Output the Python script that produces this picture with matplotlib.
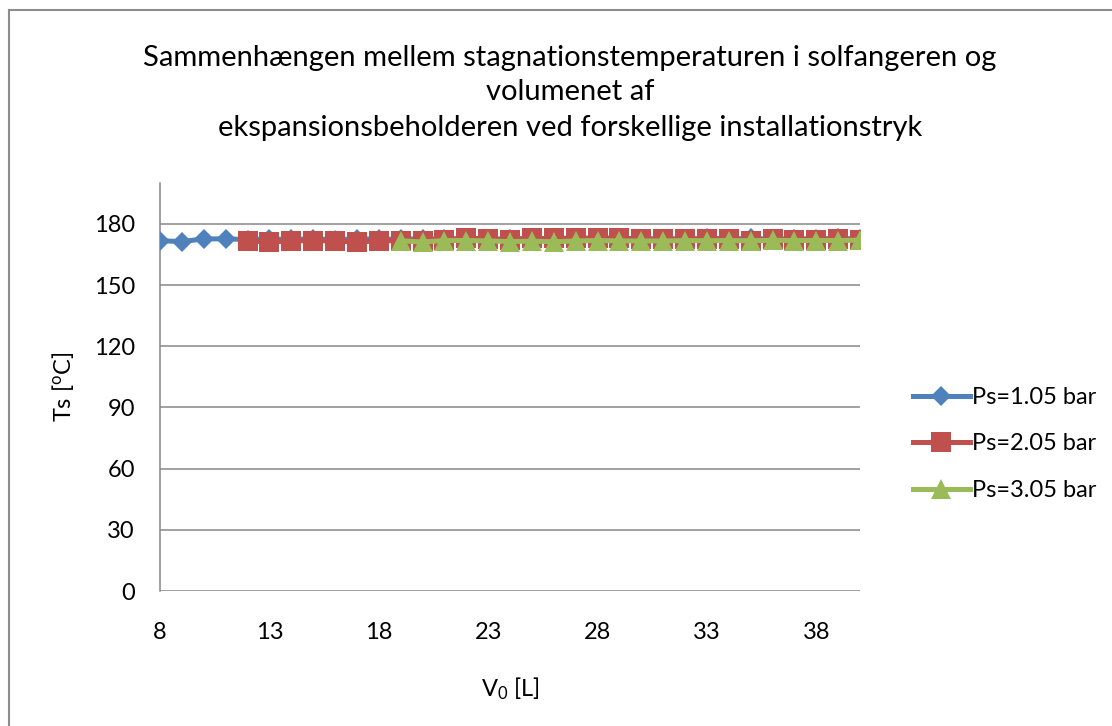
import matplotlib
matplotlib.use("Agg")
import matplotlib.pyplot as plt
from matplotlib.lines import Line2D

plt.rcParams['font.family'] = ['Lato', 'DejaVu Sans']
plt.rcParams['mathtext.fontset'] = 'custom'
plt.rcParams['mathtext.rm'] = 'Lato'
plt.rcParams['mathtext.it'] = 'Lato'

# Data
x_blue = list(range(8, 41))
ts_blue = [171.7, 171.3, 172.6, 172.6, 172.3, 172.5, 172.4, 172.6, 172.3, 172.5,
           172.6, 172.4, 172.7, 172.5, 172.6, 172.4, 172.7, 172.8, 172.6, 172.7,
           172.5, 172.8, 172.6, 172.7, 172.5, 172.8, 172.6, 172.8, 172.5, 172.7,
           172.6, 172.8, 172.6]
x_red = list(range(12, 41))
ts_red = [171.7, 171.0, 171.7, 171.7, 171.6, 171.0, 171.7, 171.7, 171.8, 172.2,
          173.0, 172.6, 172.1, 172.8, 172.8, 173.0, 173.0, 173.0, 172.4, 172.4,
          172.5, 172.6, 172.6, 171.8, 172.4, 172.3, 172.3, 172.5, 172.2]
x_green = list(range(19, 41))
ts_green = [171.7, 171.1, 171.8, 171.8, 171.6, 171.3, 171.5, 171.2, 171.6, 171.8,
            171.6, 171.6, 171.6, 171.8, 171.7, 171.8, 171.7, 171.9, 171.8, 171.8,
            171.8, 172.0]
labels = ['Ps=1.05 bar', 'Ps=2.05 bar', 'Ps=3.05 bar']
colors = ['#4F81BD', '#C0504D', '#9BBB59']
xticks = [8, 13, 18, 23, 28, 33, 38]
yticks = [0, 30, 60, 90, 120, 150, 180]

FS = 17
fig = plt.figure(figsize=(11.12, 7.26), dpi=100)
ax = fig.add_axes([160/1112, 1-591/726, 700/1112, 408/726])

ax.plot(x_blue, ts_blue, color=colors[0], lw=3.6, marker='D', ms=10.5,
        markeredgewidth=0, label=labels[0], solid_joinstyle='round', zorder=3)
ax.plot(x_red, ts_red, color=colors[1], lw=3.6, marker='s', ms=15,
        markeredgewidth=0, label=labels[1], zorder=4)
ax.plot(x_green, ts_green, color=colors[2], lw=3.6, marker='^', ms=15,
        markeredgewidth=0, label=labels[2], zorder=5)

ax.set_xlim(8, 40)
ax.set_ylim(0, 200)
ax.set_xticks(xticks)
ax.set_xticklabels([str(v) for v in xticks])
ax.set_yticks(yticks)
ax.tick_params(axis='both', length=0, labelsize=FS, colors='black')
ax.tick_params(axis='x', pad=22)
ax.tick_params(axis='y', pad=18)
ax.grid(axis='y', color='#868686', lw=1.1)
ax.set_axisbelow(True)
for s in ['top', 'right', 'bottom']:
    ax.spines[s].set_visible(False)
ax.spines['left'].set_color('#868686')
ax.spines['left'].set_linewidth(1.1)

ax.set_ylabel('Ts [$^{\\mathrm{o}}$C]', fontsize=FS, labelpad=13)
ax.set_xlabel('V$_0$ [L]', fontsize=FS, labelpad=24)

TFS = 21
fig.text(570/1112, 1-58/726, 'Sammenhængen mellem stagnationstemperaturen i solfangeren og',
         ha='center', va='center', fontsize=TFS)
fig.text(570/1112, 1-92/726, 'volumenet af', ha='center', va='center', fontsize=TFS)
fig.text(570/1112, 1-128/726, 'ekspansionsbeholderen ved forskellige installationstryk',
         ha='center', va='center', fontsize=TFS)

handles = [Line2D([], [], color=colors[0], lw=3.6, marker='D', ms=10.5, markeredgewidth=0),
           Line2D([], [], color=colors[1], lw=3.6, marker='s', ms=15, markeredgewidth=0),
           Line2D([], [], color=colors[2], lw=3.6, marker='^', ms=15, markeredgewidth=0)]
fig.legend(handles, labels, loc='center left', bbox_to_anchor=(913/1112, 1-444/726),
           frameon=False, fontsize=FS, handlelength=2.4, handletextpad=0.1,
           labelspacing=1.08, borderaxespad=0, borderpad=0)

fig.add_artist(Line2D([9/1112, 9/1112], [0, 1-10/726], color='#8c8c8c', lw=1.5))
fig.add_artist(Line2D([9/1112, 1], [1-10/726, 1-10/726], color='#8c8c8c', lw=1.5))

fig.savefig('out.png', dpi=100)
